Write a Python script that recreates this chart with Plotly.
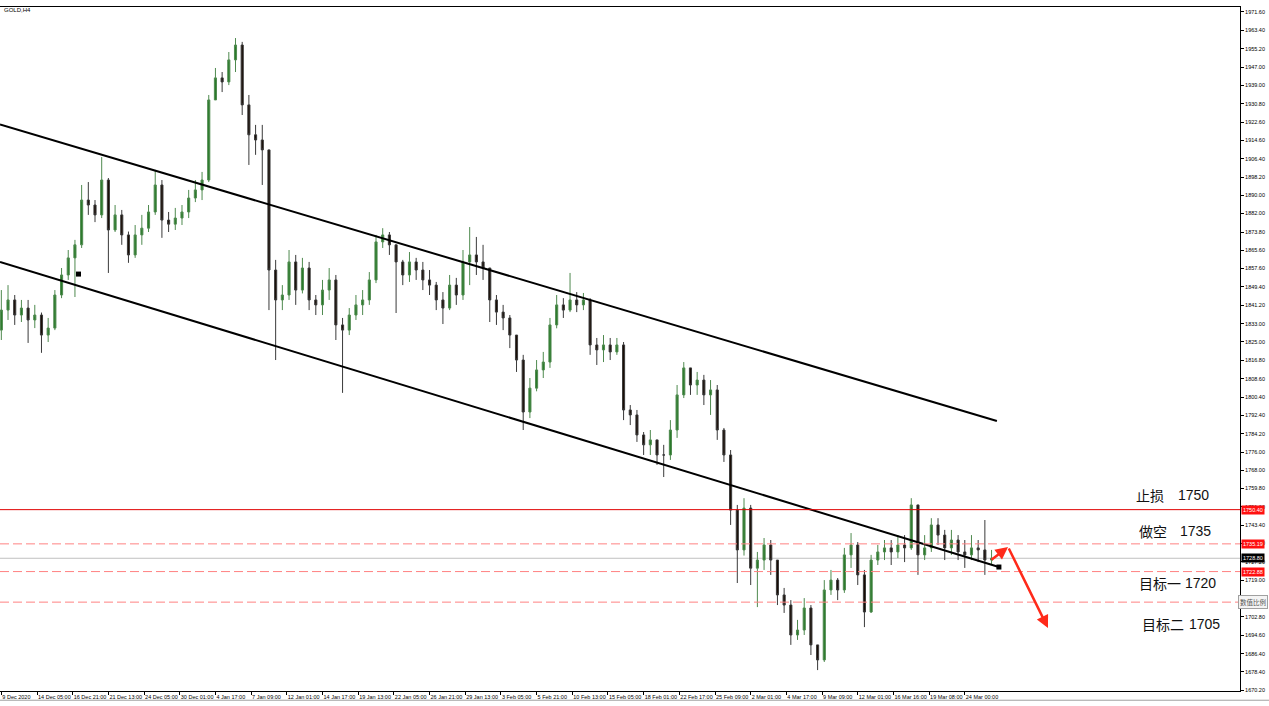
import plotly.graph_objects as go

# ---------------- data (GOLD H4, each candle = 3 H4 bars) ----------------
first_open = 1830.2
closes = [
    1839.1, 1843.6, 1836.9, 1840.0, 1834.7, 1836.9, 1828.0, 1831.1, 1845.8, 1854.7,
    1862.3, 1868.1, 1888.0, 1885.8, 1881.4, 1896.9, 1874.7, 1881.4, 1872.5, 1863.6,
    1872.5, 1875.5, 1882.7, 1894.7, 1879.1, 1877.3, 1880.0, 1882.7, 1888.9, 1892.5,
    1896.9, 1932.5, 1942.3, 1940.5, 1950.3, 1956.9, 1930.3, 1917.0, 1914.7, 1910.3,
    1856.9, 1843.6, 1845.8, 1860.5, 1848.0, 1857.8, 1843.6, 1841.4, 1848.0, 1852.5,
    1832.5, 1830.2, 1836.9, 1841.4, 1843.6, 1852.5, 1869.4, 1872.5, 1868.1, 1860.5,
    1854.7, 1860.5, 1856.9, 1852.5, 1850.2, 1843.6, 1840.0, 1850.2, 1845.8, 1860.5,
    1863.6, 1860.5, 1857.8, 1843.6, 1838.2, 1835.6, 1828.0, 1816.9, 1793.8, 1804.4,
    1812.5, 1816.0, 1832.5, 1841.4, 1839.1, 1843.6, 1841.4, 1843.6, 1823.6, 1821.4,
    1823.6, 1820.5, 1823.6, 1794.7, 1792.5, 1783.6, 1779.2, 1781.4, 1774.7, 1774.7,
    1785.8, 1801.4, 1813.4, 1805.8, 1808.0, 1801.4, 1803.6, 1785.8, 1774.7, 1750.2,
    1732.5, 1751.1, 1724.4, 1728.0, 1734.7, 1728.0, 1712.5, 1708.0, 1694.7, 1696.9,
    1706.7, 1690.3, 1683.6, 1714.7, 1719.1, 1714.7, 1730.3, 1734.7, 1721.4, 1704.9,
    1728.0, 1731.6, 1733.4, 1731.6, 1734.7, 1733.4, 1752.5, 1730.3, 1733.4, 1743.6,
    1739.1, 1733.4, 1736.9, 1731.6, 1730.3, 1733.4, 1732.5, 1728.0, 1728.8,
]
highs = [
    1848.0, 1850.2, 1845.8, 1843.6, 1843.6, 1841.4, 1838.0, 1835.6, 1848.0, 1857.8,
    1865.8, 1870.3, 1894.7, 1896.0, 1888.0, 1907.1, 1897.8, 1885.8, 1883.6, 1874.0,
    1876.9, 1881.4, 1885.8, 1901.4, 1896.9, 1882.7, 1884.5, 1885.8, 1892.5, 1896.9,
    1900.5, 1934.7, 1946.7, 1944.9, 1953.8, 1960.0, 1958.3, 1934.7, 1921.4, 1921.4,
    1910.3, 1861.4, 1850.2, 1865.8, 1863.6, 1862.3, 1860.5, 1845.8, 1852.5, 1857.8,
    1854.7, 1835.6, 1840.0, 1845.8, 1848.0, 1856.0, 1872.5, 1875.5, 1873.8, 1868.1,
    1861.4, 1864.9, 1862.3, 1860.5, 1856.9, 1851.6, 1847.1, 1854.7, 1853.4, 1865.8,
    1876.0, 1871.6, 1868.1, 1857.8, 1845.8, 1841.4, 1836.9, 1828.0, 1819.2, 1808.9,
    1816.9, 1820.5, 1835.6, 1845.8, 1844.4, 1855.6, 1847.1, 1846.7, 1844.4, 1826.7,
    1828.0, 1826.7, 1826.7, 1824.9, 1796.9, 1794.7, 1784.9, 1785.8, 1781.4, 1779.2,
    1790.2, 1805.8, 1816.0, 1813.4, 1811.6, 1810.3, 1808.0, 1805.8, 1786.7, 1776.9,
    1752.5, 1755.5, 1752.5, 1731.6, 1737.8, 1736.9, 1728.0, 1715.6, 1710.2, 1701.4,
    1711.1, 1708.0, 1690.3, 1719.1, 1723.6, 1720.0, 1733.4, 1740.0, 1736.0, 1723.6,
    1730.3, 1734.7, 1736.9, 1736.9, 1739.1, 1739.1, 1755.5, 1752.5, 1739.1, 1746.6,
    1746.6, 1741.4, 1741.4, 1739.1, 1736.9, 1739.1, 1736.9, 1745.8, 1732.5,
]
lows = [
    1825.8, 1834.7, 1832.5, 1833.8, 1824.5, 1831.1, 1820.1, 1824.9, 1830.2, 1844.4,
    1852.5, 1844.9, 1866.7, 1881.4, 1878.2, 1880.0, 1855.6, 1873.8, 1868.1, 1860.1,
    1862.3, 1868.1, 1873.8, 1881.4, 1871.2, 1873.8, 1874.7, 1876.9, 1880.0, 1887.1,
    1888.0, 1896.0, 1932.5, 1936.0, 1939.1, 1944.9, 1925.8, 1903.6, 1908.1, 1894.7,
    1839.1, 1816.9, 1839.1, 1843.6, 1841.4, 1846.5, 1839.1, 1836.9, 1836.9, 1843.6,
    1825.8, 1802.3, 1828.0, 1834.7, 1836.9, 1841.4, 1851.1, 1866.7, 1863.6, 1837.8,
    1850.2, 1851.6, 1852.5, 1848.0, 1845.8, 1839.1, 1832.9, 1839.1, 1841.4, 1843.6,
    1850.2, 1854.7, 1852.5, 1833.8, 1832.5, 1830.2, 1822.2, 1811.6, 1785.8, 1791.1,
    1803.0, 1808.9, 1813.4, 1831.0, 1835.6, 1838.2, 1838.2, 1839.1, 1819.2, 1814.7,
    1816.0, 1816.9, 1819.2, 1790.2, 1788.0, 1780.5, 1774.7, 1774.7, 1770.3, 1764.9,
    1772.5, 1782.3, 1800.0, 1801.4, 1801.4, 1796.9, 1792.5, 1781.4, 1771.6, 1743.6,
    1717.8, 1730.0, 1716.9, 1707.1, 1723.6, 1721.4, 1708.0, 1704.5, 1690.3, 1692.5,
    1694.7, 1685.8, 1679.1, 1682.7, 1712.5, 1710.2, 1713.4, 1724.5, 1716.9, 1698.2,
    1704.5, 1725.8, 1728.0, 1725.8, 1728.9, 1727.1, 1732.5, 1721.4, 1728.0, 1731.6,
    1734.7, 1728.0, 1730.3, 1728.0, 1724.5, 1728.0, 1727.1, 1721.4, 1726.2,
]
bars_per_candle = 3

# x-axis time labels (one every 16 H4 bars)
x_tick_labels = [
    "9 Dec 2020", "14 Dec 05:00", "16 Dec 21:00", "21 Dec 13:00", "24 Dec 05:00",
    "30 Dec 01:00", "4 Jan 17:00", "7 Jan 09:00", "12 Jan 01:00", "14 Jan 17:00",
    "19 Jan 13:00", "22 Jan 05:00", "26 Jan 21:00", "29 Jan 13:00", "3 Feb 05:00",
    "5 Feb 21:00", "10 Feb 13:00", "15 Feb 05:00", "18 Feb 01:00", "22 Feb 17:00",
    "25 Feb 09:00", "2 Mar 01:00", "4 Mar 17:00", "9 Mar 09:00", "12 Mar 01:00",
    "16 Mar 16:00", "19 Mar 08:00", "24 Mar 00:00",
]
bars_per_label = 16

# price-axis tick values
y_ticks = [
    1971.60, 1963.40, 1955.20, 1947.00, 1939.00, 1930.80, 1922.60, 1914.60, 1906.40,
    1898.20, 1890.00, 1882.00, 1873.80, 1865.60, 1857.60, 1849.40, 1841.20, 1833.00,
    1825.00, 1816.80, 1808.60, 1800.40, 1792.40, 1784.20, 1776.00, 1768.00, 1759.80,
    1751.60, 1743.40, 1735.40, 1727.20, 1719.00, 1711.00, 1702.80, 1694.60, 1686.40,
    1678.40, 1670.20,
]

# drawing objects (bar index, price)
upper_channel_x = [-0.6, 446.4]
upper_channel_y = [1921.6, 1789.8]
lower_channel_x = [-0.6, 447.3]
lower_channel_y = [1860.5, 1724.9]
anchor_x = [34.6, 447.3]
anchor_y = [1855.1, 1724.9]

stop_loss = 1750.40
entry = 1735.19
target1 = 1722.88
target2 = 1709.3
bid = 1728.80

arrow_up_from = (443.3, 1727.6)
arrow_turn = (451.4, 1733.8)
arrow_down_to = (469.3, 1697.8)

notes = [("止损", "1750"), ("做空", "1735"), ("目标一", "1720"), ("目标二", "1705")]

# ---------------- figure ----------------
opens = [first_open] + closes[:-1]
xs = [i * bars_per_candle for i in range(len(closes))]

fig = go.Figure()
fig.add_trace(go.Candlestick(
    x=xs, open=opens, high=highs, low=lows, close=closes,
    increasing=dict(line=dict(color="#4f8a4f", width=1), fillcolor="#2a7a2a"),
    decreasing=dict(line=dict(color="#3a3a3a", width=1), fillcolor="#1a0e06"),
    whiskerwidth=0, showlegend=False, hoverinfo="skip",
))

fig.add_trace(go.Scatter(x=upper_channel_x, y=upper_channel_y, mode="lines",
                         line=dict(color="black", width=2), showlegend=False, hoverinfo="skip"))
fig.add_trace(go.Scatter(x=lower_channel_x, y=lower_channel_y, mode="lines",
                         line=dict(color="black", width=2), showlegend=False, hoverinfo="skip"))
fig.add_trace(go.Scatter(x=anchor_x, y=anchor_y, mode="markers",
                         marker=dict(symbol="square", size=5, color="black"),
                         showlegend=False, hoverinfo="skip"))

shapes = []
shapes.append(dict(type="line", xref="paper", x0=0, x1=1, yref="y", y0=bid, y1=bid,
                   line=dict(color="#c0c0c0", width=1), layer="below"))
shapes.append(dict(type="line", xref="paper", x0=0, x1=1, yref="y", y0=stop_loss, y1=stop_loss,
                   line=dict(color="#e00000", width=1)))
for lv in (entry, target1, target2):
    shapes.append(dict(type="line", xref="paper", x0=0, x1=1, yref="y", y0=lv, y1=lv,
                       line=dict(color="rgb(255,130,130)", width=1, dash="9px,4px")))
# window bottom border
shapes.append(dict(type="line", xref="paper", x0=0, x1=1.0234, yref="paper", y0=-0.0135, y1=-0.0135,
                   line=dict(color="#a0a0a0", width=1)))

annotations = []
# red arrows
annotations.append(dict(x=arrow_turn[0], y=arrow_turn[1], ax=arrow_up_from[0], ay=arrow_up_from[1],
                        xref="x", yref="y", axref="x", ayref="y", text="", showarrow=True,
                        arrowhead=2, arrowsize=1, arrowwidth=2.5, arrowcolor="#ff2a1a"))
annotations.append(dict(x=arrow_down_to[0], y=arrow_down_to[1], ax=arrow_turn[0], ay=arrow_turn[1],
                        xref="x", yref="y", axref="x", ayref="y", text="", showarrow=True,
                        arrowhead=2, arrowsize=1, arrowwidth=2.5, arrowcolor="#ff2a1a"))

# notes text
note_pos = [(0.9274, 0.9629, 0.2865), (0.9298, 0.9645, 0.2339),
            (0.9355, 0.9685, 0.1579), (0.9379, 0.9710, 0.0980)]
for (cn, num), (xc, xn, yp) in zip(notes, note_pos):
    annotations.append(dict(x=xc, y=yp, xref="paper", yref="paper", text=cn, showarrow=False,
                            xanchor="center", yanchor="middle",
                            font=dict(family="Noto Sans CJK SC", size=14, color="#111")))
    annotations.append(dict(x=xn, y=yp, xref="paper", yref="paper", text=num, showarrow=False,
                            xanchor="center", yanchor="middle",
                            font=dict(family="Liberation Sans", size=14, color="#111")))

# price boxes on the axis
for val, bg in ((stop_loss, "#ff1010"), (entry, "#ff1010"), (bid, "#000000"), (target1, "#ff1010")):
    annotations.append(dict(x=1.0, y=val, xref="paper", yref="y", text=f"{val:.2f}",
                            showarrow=False, xanchor="left", yanchor="middle", xshift=1,
                            bgcolor=bg, borderpad=1,
                            font=dict(family="Liberation Sans", size=5.5, color="white")))
annotations.append(dict(x=0.998, y=target2, xref="paper", yref="y", text="数值比例",
                        showarrow=False, xanchor="left", yanchor="middle",
                        bgcolor="#f4f4f4", bordercolor="#a0a0a0", borderwidth=1, borderpad=1,
                        font=dict(family="Noto Sans CJK SC", size=6.5, color="#555")))
annotations.append(dict(x=0.002, y=0.9956, xref="paper", yref="paper", text="GOLD,H4",
                        showarrow=False, xanchor="left", yanchor="middle",
                        font=dict(family="Liberation Sans", size=6, color="#000")))

fig.update_layout(
    width=1269, height=706,
    margin=dict(l=0, r=29, t=7, b=15, autoexpand=False),
    paper_bgcolor="white", plot_bgcolor="white",
    shapes=shapes, annotations=annotations,
    showlegend=False, boxgap=0.55,
    xaxis=dict(
        range=[-0.6, 555.4], rangeslider=dict(visible=False), automargin=False,
        tickvals=[i * bars_per_label for i in range(len(x_tick_labels))],
        ticktext=x_tick_labels, ticklabelposition="outside right", tickangle=0,
        ticks="outside", ticklen=3, tickcolor="#000",
        tickfont=dict(family="Liberation Sans", size=5.5, color="#000"),
        showgrid=False, zeroline=False, showline=True, linecolor="#000", linewidth=1, mirror=True,
    ),
    yaxis=dict(
        side="right", range=[1669.8, 1973.8], automargin=False,
        tickvals=y_ticks, ticktext=[f"{v:.2f}" for v in y_ticks],
        ticks="outside", ticklen=3, tickcolor="#000",
        tickfont=dict(family="Liberation Sans", size=5.5, color="#000"),
        showgrid=False, zeroline=False, showline=True, linecolor="#000", linewidth=1, mirror=True,
    ),
)

fig.write_html("out.html", config={"displayModeBar": False},
               post_script="document.body.style.margin='0px';document.body.style.overflow='hidden';")
